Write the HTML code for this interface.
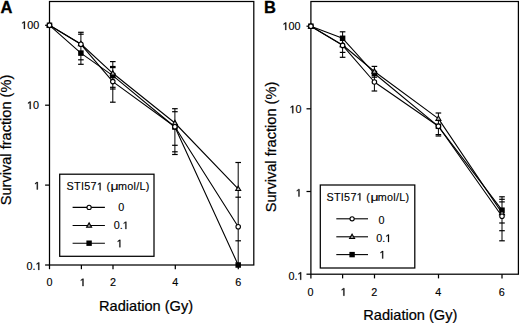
<!DOCTYPE html>
<html><head><meta charset="utf-8"><style>
html,body{margin:0;padding:0;background:#fff;}
svg{display:block;}
text{font-family:"Liberation Sans",sans-serif;fill:#000;}
.t{stroke:#000;stroke-width:0.15px;}
use.t{fill:#000;stroke:#000;stroke-width:0.3px;vector-effect:non-scaling-stroke;}
use.lg{fill:#000;stroke:#000;stroke-width:0.25px;vector-effect:non-scaling-stroke;}
.ax{stroke:#000;stroke-width:0.22px;}
.lg{stroke:#000;stroke-width:0.12px;}
.pl{font-weight:bold;stroke:#000;stroke-width:0.3px;}
</style></head><body>
<svg width="520" height="324" viewBox="0 0 520 324">
<defs><path id="one" vector-effect="non-scaling-stroke" d="M515 0V1237L197 1010V1180L530 1409H696V0Z"/></defs>
<rect width="520" height="324" fill="#fff"/>
<rect x="49.5" y="1.5" width="204.3" height="263.5" fill="none" stroke="#000" stroke-width="1.25"/><line x1="45.1" y1="25.3" x2="49.5" y2="25.3" stroke="#000" stroke-width="1.25"/><line x1="45.1" y1="105.2" x2="49.5" y2="105.2" stroke="#000" stroke-width="1.25"/><line x1="45.1" y1="185.1" x2="49.5" y2="185.1" stroke="#000" stroke-width="1.25"/><line x1="45.1" y1="265" x2="49.5" y2="265" stroke="#000" stroke-width="1.25"/><line x1="49.5" y1="265" x2="49.5" y2="269.2" stroke="#000" stroke-width="1.25"/><line x1="81.4" y1="265" x2="81.4" y2="269.2" stroke="#000" stroke-width="1.25"/><line x1="113" y1="265" x2="113" y2="269.2" stroke="#000" stroke-width="1.25"/><line x1="175.3" y1="265" x2="175.3" y2="269.2" stroke="#000" stroke-width="1.25"/><line x1="238.3" y1="265" x2="238.3" y2="269.2" stroke="#000" stroke-width="1.25"/><rect x="310.9" y="1.5" width="207.5" height="272.7" fill="none" stroke="#000" stroke-width="1.25"/><line x1="306.5" y1="26.2" x2="310.9" y2="26.2" stroke="#000" stroke-width="1.25"/><line x1="306.5" y1="108.8" x2="310.9" y2="108.8" stroke="#000" stroke-width="1.25"/><line x1="306.5" y1="191.5" x2="310.9" y2="191.5" stroke="#000" stroke-width="1.25"/><line x1="306.5" y1="274.2" x2="310.9" y2="274.2" stroke="#000" stroke-width="1.25"/><line x1="310.9" y1="274.2" x2="310.9" y2="278.4" stroke="#000" stroke-width="1.25"/><line x1="342.6" y1="274.2" x2="342.6" y2="278.4" stroke="#000" stroke-width="1.25"/><line x1="374.5" y1="274.2" x2="374.5" y2="278.4" stroke="#000" stroke-width="1.25"/><line x1="438.5" y1="274.2" x2="438.5" y2="278.4" stroke="#000" stroke-width="1.25"/><line x1="502" y1="274.2" x2="502" y2="278.4" stroke="#000" stroke-width="1.25"/><text class="t" x="21.18" y="28.9" font-size="10.8">&#8199;00</text><use href="#one" class="t" transform="translate(21.18 28.9) scale(0.005273 -0.005273)"/><text class="t" x="26.99" y="109" font-size="10.8">&#8199;0</text><use href="#one" class="t" transform="translate(26.99 109) scale(0.005273 -0.005273)"/><text class="t" x="34.09" y="189.5" font-size="10.8">&#8199;</text><use href="#one" class="t" transform="translate(34.09 189.5) scale(0.005273 -0.005273)"/><text class="t" x="26.59" y="269.9" font-size="10.8">0.&#8199;</text><use href="#one" class="t" transform="translate(35.59 269.9) scale(0.005273 -0.005273)"/><text class="t" x="49.5" y="286.1" font-size="10.8" text-anchor="middle">0</text><text class="t" x="79.8" y="286.1" font-size="10.8">&#8199;</text><use href="#one" class="t" transform="translate(79.8 286.1) scale(0.005273 -0.005273)"/><text class="t" x="113" y="286.1" font-size="10.8" text-anchor="middle">2</text><text class="t" x="175.3" y="286.1" font-size="10.8" text-anchor="middle">4</text><text class="t" x="238.3" y="286.1" font-size="10.8" text-anchor="middle">6</text><text class="t" x="282.58" y="30" font-size="10.8">&#8199;00</text><use href="#one" class="t" transform="translate(282.58 30) scale(0.005273 -0.005273)"/><text class="t" x="289.59" y="113.2" font-size="10.8">&#8199;0</text><use href="#one" class="t" transform="translate(289.59 113.2) scale(0.005273 -0.005273)"/><text class="t" x="295.79" y="196.6" font-size="10.8">&#8199;</text><use href="#one" class="t" transform="translate(295.79 196.6) scale(0.005273 -0.005273)"/><text class="t" x="288.49" y="279.8" font-size="10.8">0.&#8199;</text><use href="#one" class="t" transform="translate(297.49 279.8) scale(0.005273 -0.005273)"/><text class="t" x="310.6" y="295.7" font-size="10.8" text-anchor="middle">0</text><text class="t" x="340.7" y="295.7" font-size="10.8">&#8199;</text><use href="#one" class="t" transform="translate(340.7 295.7) scale(0.005273 -0.005273)"/><text class="t" x="374.2" y="295.7" font-size="10.8" text-anchor="middle">2</text><text class="t" x="438.2" y="295.7" font-size="10.8" text-anchor="middle">4</text><text class="t" x="501.7" y="295.7" font-size="10.8" text-anchor="middle">6</text><text class="ax" x="99" y="310.7" font-size="14.6">Radiation (Gy)</text><text class="ax" x="363.3" y="319.7" font-size="14.6">Radiation (Gy)</text><text class="ax" transform="translate(11.3 205.3) rotate(-90)" font-size="14.6">Survival fraction (%)</text><text class="ax" transform="translate(275.7 212.3) rotate(-90)" font-size="14.6">Survival fraction (%)</text><text class="pl" x="0.5" y="12.5" font-size="16.5">A</text><text class="pl" x="264" y="12.9" font-size="16.5">B</text><line x1="80.9" y1="32.3" x2="80.9" y2="64.3" stroke="#000" stroke-width="1.0"/><line x1="78.1" y1="32.3" x2="83.7" y2="32.3" stroke="#000" stroke-width="1.2"/><line x1="78.1" y1="34.2" x2="83.7" y2="34.2" stroke="#000" stroke-width="1.2"/><line x1="78.1" y1="59.8" x2="83.7" y2="59.8" stroke="#000" stroke-width="1.2"/><line x1="78.1" y1="64.3" x2="83.7" y2="64.3" stroke="#000" stroke-width="1.2"/><line x1="112.8" y1="61.6" x2="112.8" y2="102.2" stroke="#000" stroke-width="1.0"/><line x1="110" y1="61.6" x2="115.6" y2="61.6" stroke="#000" stroke-width="1.2"/><line x1="110" y1="66.5" x2="115.6" y2="66.5" stroke="#000" stroke-width="1.2"/><line x1="110" y1="67.6" x2="115.6" y2="67.6" stroke="#000" stroke-width="1.2"/><line x1="110" y1="87.3" x2="115.6" y2="87.3" stroke="#000" stroke-width="1.2"/><line x1="110" y1="89" x2="115.6" y2="89" stroke="#000" stroke-width="1.2"/><line x1="110" y1="102.2" x2="115.6" y2="102.2" stroke="#000" stroke-width="1.2"/><line x1="174.9" y1="108.7" x2="174.9" y2="154.5" stroke="#000" stroke-width="1.0"/><line x1="172.1" y1="108.7" x2="177.7" y2="108.7" stroke="#000" stroke-width="1.2"/><line x1="172.1" y1="111.7" x2="177.7" y2="111.7" stroke="#000" stroke-width="1.2"/><line x1="172.1" y1="145.3" x2="177.7" y2="145.3" stroke="#000" stroke-width="1.2"/><line x1="172.1" y1="151.8" x2="177.7" y2="151.8" stroke="#000" stroke-width="1.2"/><line x1="172.1" y1="154.5" x2="177.7" y2="154.5" stroke="#000" stroke-width="1.2"/><line x1="238.2" y1="162.5" x2="238.2" y2="265" stroke="#000" stroke-width="1.0"/><line x1="235.4" y1="162.5" x2="241" y2="162.5" stroke="#000" stroke-width="1.2"/><line x1="235.4" y1="197.2" x2="241" y2="197.2" stroke="#000" stroke-width="1.2"/><line x1="235.4" y1="240.8" x2="241" y2="240.8" stroke="#000" stroke-width="1.2"/><path d="M49.5 25.3L80.9 53.1L112.8 75.6L174.9 127L238.2 265" fill="none" stroke="#000" stroke-width="1.1" stroke-linejoin="round"/><path d="M49.5 25.3L80.9 44L112.8 73.3L174.9 123L238.2 188.8" fill="none" stroke="#000" stroke-width="1.1" stroke-linejoin="round"/><path d="M49.5 25.3L80.9 44.3L112.8 81.6L174.9 126.8L238.2 226.7" fill="none" stroke="#000" stroke-width="1.1" stroke-linejoin="round"/><rect x="46.75" y="22.55" width="5.5" height="5.5" fill="#000"/><rect x="78.15" y="50.35" width="5.5" height="5.5" fill="#000"/><rect x="110.05" y="72.85" width="5.5" height="5.5" fill="#000"/><rect x="172.15" y="124.25" width="5.5" height="5.5" fill="#000"/><rect x="235.45" y="262.25" width="5.5" height="5.5" fill="#000"/><path d="M49.5 22.69L52 27.04L47 27.04Z" fill="#bbb" stroke="#000" stroke-width="1.1" stroke-linejoin="miter"/><path d="M80.9 41.39L83.4 45.74L78.4 45.74Z" fill="#bbb" stroke="#000" stroke-width="1.1" stroke-linejoin="miter"/><path d="M112.8 70.69L115.3 75.04L110.3 75.04Z" fill="#bbb" stroke="#000" stroke-width="1.1" stroke-linejoin="miter"/><path d="M174.9 120.39L177.4 124.74L172.4 124.74Z" fill="#bbb" stroke="#000" stroke-width="1.1" stroke-linejoin="miter"/><path d="M238.2 186.19L240.7 190.54L235.7 190.54Z" fill="#bbb" stroke="#000" stroke-width="1.1" stroke-linejoin="miter"/><circle cx="49.5" cy="25.3" r="2.25" fill="#fff" stroke="#000" stroke-width="1.1"/><circle cx="80.9" cy="44.3" r="2.25" fill="#fff" stroke="#000" stroke-width="1.1"/><circle cx="112.8" cy="81.6" r="2.25" fill="#fff" stroke="#000" stroke-width="1.1"/><circle cx="174.9" cy="126.8" r="2.25" fill="#fff" stroke="#000" stroke-width="1.1"/><circle cx="238.2" cy="226.7" r="2.25" fill="#fff" stroke="#000" stroke-width="1.1"/><line x1="342.6" y1="31.8" x2="342.6" y2="57.3" stroke="#000" stroke-width="1.0"/><line x1="339.8" y1="31.8" x2="345.4" y2="31.8" stroke="#000" stroke-width="1.2"/><line x1="339.8" y1="52.4" x2="345.4" y2="52.4" stroke="#000" stroke-width="1.2"/><line x1="339.8" y1="57.3" x2="345.4" y2="57.3" stroke="#000" stroke-width="1.2"/><line x1="374.4" y1="66.4" x2="374.4" y2="91" stroke="#000" stroke-width="1.0"/><line x1="371.6" y1="66.4" x2="377.2" y2="66.4" stroke="#000" stroke-width="1.2"/><line x1="371.6" y1="77.2" x2="377.2" y2="77.2" stroke="#000" stroke-width="1.2"/><line x1="371.6" y1="91" x2="377.2" y2="91" stroke="#000" stroke-width="1.2"/><line x1="438.4" y1="113" x2="438.4" y2="135.5" stroke="#000" stroke-width="1.0"/><line x1="435.6" y1="113" x2="441.2" y2="113" stroke="#000" stroke-width="1.2"/><line x1="435.6" y1="134.6" x2="441.2" y2="134.6" stroke="#000" stroke-width="1.2"/><line x1="435.6" y1="136" x2="441.2" y2="136" stroke="#000" stroke-width="1.2"/><line x1="502" y1="196.8" x2="502" y2="240.8" stroke="#000" stroke-width="1.0"/><line x1="499.2" y1="196.8" x2="504.8" y2="196.8" stroke="#000" stroke-width="1.2"/><line x1="499.2" y1="199.3" x2="504.8" y2="199.3" stroke="#000" stroke-width="1.2"/><line x1="499.2" y1="201.9" x2="504.8" y2="201.9" stroke="#000" stroke-width="1.2"/><line x1="499.2" y1="223" x2="504.8" y2="223" stroke="#000" stroke-width="1.2"/><line x1="499.2" y1="230.7" x2="504.8" y2="230.7" stroke="#000" stroke-width="1.2"/><line x1="499.2" y1="240.8" x2="504.8" y2="240.8" stroke="#000" stroke-width="1.2"/><path d="M310.9 26.2L342.6 38.3L374.4 73.5L438.4 126.3L502 210.2" fill="none" stroke="#000" stroke-width="1.1" stroke-linejoin="round"/><path d="M310.9 26.2L342.6 45L374.4 71.5L438.4 118.6L502 213" fill="none" stroke="#000" stroke-width="1.1" stroke-linejoin="round"/><path d="M310.9 26.2L342.6 45.4L374.4 82L438.4 126.3L502 216.3" fill="none" stroke="#000" stroke-width="1.1" stroke-linejoin="round"/><rect x="308.15" y="23.45" width="5.5" height="5.5" fill="#000"/><rect x="339.85" y="35.55" width="5.5" height="5.5" fill="#000"/><rect x="371.65" y="70.75" width="5.5" height="5.5" fill="#000"/><rect x="435.65" y="123.55" width="5.5" height="5.5" fill="#000"/><rect x="499.25" y="207.45" width="5.5" height="5.5" fill="#000"/><path d="M310.9 23.59L313.4 27.94L308.4 27.94Z" fill="#bbb" stroke="#000" stroke-width="1.1" stroke-linejoin="miter"/><path d="M342.6 42.39L345.1 46.74L340.1 46.74Z" fill="#bbb" stroke="#000" stroke-width="1.1" stroke-linejoin="miter"/><path d="M374.4 68.89L376.9 73.24L371.9 73.24Z" fill="#bbb" stroke="#000" stroke-width="1.1" stroke-linejoin="miter"/><path d="M438.4 115.99L440.9 120.34L435.9 120.34Z" fill="#bbb" stroke="#000" stroke-width="1.1" stroke-linejoin="miter"/><path d="M502 210.39L504.5 214.74L499.5 214.74Z" fill="#bbb" stroke="#000" stroke-width="1.1" stroke-linejoin="miter"/><circle cx="310.9" cy="26.2" r="2.25" fill="#fff" stroke="#000" stroke-width="1.1"/><circle cx="342.6" cy="45.4" r="2.25" fill="#fff" stroke="#000" stroke-width="1.1"/><circle cx="374.4" cy="82" r="2.25" fill="#fff" stroke="#000" stroke-width="1.1"/><circle cx="438.4" cy="126.3" r="2.25" fill="#fff" stroke="#000" stroke-width="1.1"/><circle cx="502" cy="216.3" r="2.25" fill="#fff" stroke="#000" stroke-width="1.1"/><rect x="59.7" y="174.2" width="94.3" height="82.1" fill="#fff" stroke="#000" stroke-width="1.25"/><text class="lg" x="66.6" y="190.2" font-size="10.8" letter-spacing="0.3">STI57&#8199;</text><use href="#one" class="lg" transform="translate(96.91 190.2) scale(0.005273 -0.005273)"/><text class="lg" y="190.2" font-size="10.8"><tspan x="106.4">(</tspan><tspan x="117.9" letter-spacing="0.3">mol/L)</tspan></text><text class="lg" transform="translate(110.6 190.2) scale(1.3 1)" font-size="10.8">&#956;</text><line x1="72.6" y1="207.4" x2="104.9" y2="207.4" stroke="#000" stroke-width="1.1"/><circle cx="89.1" cy="207.4" r="2.1" fill="#fff" stroke="#000" stroke-width="1.1"/><text class="lg" x="121.2" y="211" font-size="10.8" text-anchor="middle">0</text><line x1="72.6" y1="225.5" x2="104.9" y2="225.5" stroke="#000" stroke-width="1.1"/><path d="M89.1 222.89L91.6 227.24L86.6 227.24Z" fill="#999" stroke="#000" stroke-width="1.1"/><text class="lg" x="113.69" y="229.1" font-size="10.8">0.&#8199;</text><use href="#one" class="lg" transform="translate(122.7 229.1) scale(0.005273 -0.005273)"/><line x1="72.6" y1="243.2" x2="104.9" y2="243.2" stroke="#000" stroke-width="1.1"/><rect x="86.4" y="240.5" width="5.4" height="5.4" fill="#000"/><text class="lg" x="116.7" y="247.3" font-size="10.8">&#8199;</text><use href="#one" class="lg" transform="translate(116.7 247.3) scale(0.005273 -0.005273)"/><rect x="320.3" y="185" width="94.5" height="83" fill="#fff" stroke="#000" stroke-width="1.25"/><text class="lg" x="326.4" y="200.6" font-size="10.8" letter-spacing="0.3">STI57&#8199;</text><use href="#one" class="lg" transform="translate(356.71 200.6) scale(0.005273 -0.005273)"/><text class="lg" y="200.6" font-size="10.8"><tspan x="366.2">(</tspan><tspan x="377.7" letter-spacing="0.3">mol/L)</tspan></text><text class="lg" transform="translate(370.4 200.6) scale(1.3 1)" font-size="10.8">&#956;</text><line x1="336.3" y1="218.8" x2="368" y2="218.8" stroke="#000" stroke-width="1.1"/><circle cx="352.1" cy="218.8" r="2.1" fill="#fff" stroke="#000" stroke-width="1.1"/><text class="lg" x="381.6" y="224.1" font-size="10.8" text-anchor="middle">0</text><line x1="336.3" y1="236.8" x2="368" y2="236.8" stroke="#000" stroke-width="1.1"/><path d="M352.1 234.19L354.6 238.54L349.6 238.54Z" fill="#999" stroke="#000" stroke-width="1.1"/><text class="lg" x="376.29" y="242" font-size="10.8">0.&#8199;</text><use href="#one" class="lg" transform="translate(385.3 242) scale(0.005273 -0.005273)"/><line x1="336.3" y1="254.6" x2="368" y2="254.6" stroke="#000" stroke-width="1.1"/><rect x="349.4" y="251.9" width="5.4" height="5.4" fill="#000"/><text class="lg" x="379.5" y="258.5" font-size="10.8">&#8199;</text><use href="#one" class="lg" transform="translate(379.5 258.5) scale(0.005273 -0.005273)"/>
</svg>
</body></html>
